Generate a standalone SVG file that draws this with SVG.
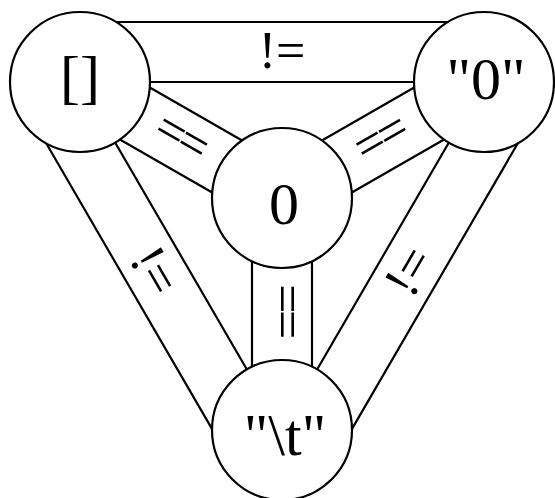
<svg xmlns="http://www.w3.org/2000/svg" width="555" height="498" viewBox="0 0 555 498">
<style>
.band{stroke:#000;stroke-width:2.2;fill:none;stroke-linecap:round}
.node circle{fill:#fff;stroke:#000;stroke-width:2.2}
.nl{font-family:"Liberation Serif","Times New Roman",serif;font-size:60px;text-anchor:middle;fill:#000}
.el{font-family:"Liberation Serif","Times New Roman",serif;font-size:52px;text-anchor:middle;fill:#000}
.eq{letter-spacing:-3.5px}
</style>
<rect width="555" height="498" fill="#fff"/>
<g id="connectors">
  <g id="e-arr-str0">
    <line class="band" x1="116" y1="22" x2="448" y2="22"/>
    <line class="band" x1="150" y1="82" x2="414" y2="82"/>
    <text class="el" x="282" y="68">!=</text>
  </g>
  <g id="e-arr-zero">
    <line class="band" x1="149.8" y1="87.5" x2="242.1" y2="140.5"/>
    <line class="band" x1="119.9" y1="139.5" x2="212.2" y2="192.5"/>
    <text class="el eq" transform="translate(181,140) rotate(29.86)" x="-2" y="13.5">==</text>
  </g>
  <g id="e-str0-zero">
    <line class="band" x1="414.2" y1="87.5" x2="321.9" y2="140.5"/>
    <line class="band" x1="444.1" y1="139.5" x2="351.8" y2="192.5"/>
    <text class="el eq" transform="translate(383,140) rotate(-29.86)" x="-2" y="13.5">==</text>
  </g>
  <g id="e-zero-tab">
    <line class="band" x1="252" y1="261.3" x2="252" y2="366.7"/>
    <line class="band" x1="312" y1="261.3" x2="312" y2="366.7"/>
    <text class="el eq" transform="translate(283,312) rotate(90)" x="-2" y="13.5">==</text>
  </g>
  <g id="e-arr-tab">
    <line class="band" x1="115.1" y1="142.5" x2="246.9" y2="369.5"/>
    <line class="band" x1="46.2" y1="143.3" x2="212" y2="428.9"/>
    <text class="el" transform="translate(155,271) rotate(59.86)" x="0" y="17">!=</text>
  </g>
  <g id="e-str0-tab">
    <line class="band" x1="448.9" y1="142.5" x2="317.1" y2="369.5"/>
    <line class="band" x1="517.8" y1="143.3" x2="352" y2="428.9"/>
    <text class="el" transform="translate(409,271) rotate(-59.86)" x="0" y="17">!=</text>
  </g>
</g>
<g id="node-arr" class="node">
  <circle cx="80" cy="82" r="70"/>
  <text class="nl" x="80" y="97">[]</text>
</g>
<g id="node-str0" class="node">
  <circle cx="484" cy="82" r="70"/>
  <text class="nl" x="486" y="99">"0"</text>
</g>
<g id="node-zero" class="node">
  <circle cx="282" cy="198" r="70"/>
  <text class="nl" x="284" y="224">0</text>
</g>
<g id="node-tab" class="node">
  <circle cx="282" cy="430" r="70"/>
  <text class="nl" x="285" y="455">"\t"</text>
</g>
</svg>
